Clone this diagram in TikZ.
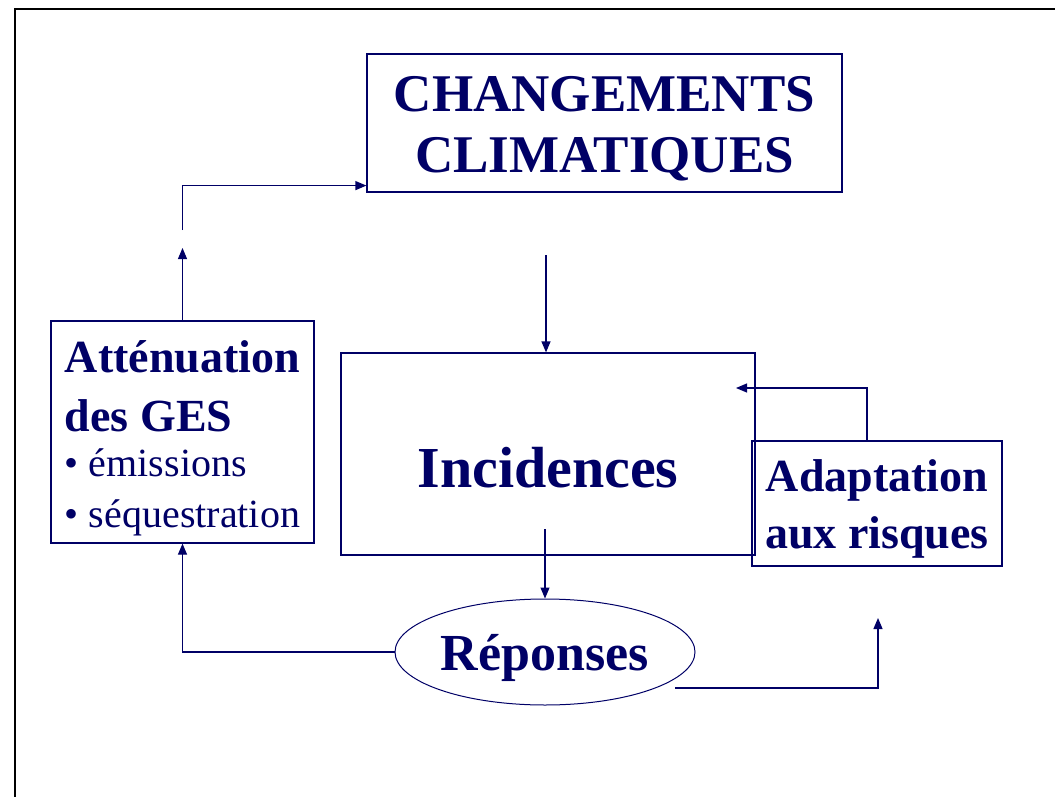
\documentclass[tikz,border=0pt]{standalone}
\usepackage{fontspec}
\setmainfont{Liberation Serif}
\usetikzlibrary{shapes.geometric,arrows.meta}
\definecolor{navy}{RGB}{0,0,102}

\begin{document}
\begin{tikzpicture}[x=1pt,y=-1pt,
  box/.style={draw=navy,line width=1.2pt,text=navy,inner sep=0pt},
  arr/.style={draw=navy,line width=1.2pt,-{Triangle[length=11pt,width=9pt]}}]
\useasboundingbox (0,0) rectangle (1055,797);
% frame
\draw[line width=2pt] (15,797) -- (15,9) -- (1055,9);
% boxes
\node[box,minimum width=475pt,minimum height=138pt,align=center,
      font=\fontsize{53}{61}\selectfont\bfseries] (chg) at (604.5,123)
      {\rule{0pt}{47pt}CHANGEMENTS\\CLIMATIQUES};
\node[box,minimum width=414pt,minimum height=202pt,text height=66pt,text depth=0pt,
      font=\fontsize{58}{70}\selectfont\bfseries] (inc) at (548,454) {Incidences};
\node[box,minimum width=263pt,minimum height=222pt,align=left,
      font=\fontsize{40}{45}\selectfont] (att) at (182.5,432)
      {\rule{0pt}{45pt}{\fontsize{46}{45}\selectfont\bfseries Atténuation}\\[14pt]
       {\fontsize{46}{45}\selectfont\bfseries des GES}\\
       \textbullet{} émissions\\[6pt]
       \textbullet{} séquestration};
\node[box,minimum width=250pt,minimum height=125pt,align=center,
      font=\fontsize{46}{57}\selectfont\bfseries] (ada) at (877,503.5)
      {\rule{0pt}{43pt}Adaptation\\aux risques};
\node[box,ellipse,line width=1pt,minimum width=300pt,minimum height=106pt,
      text height=37pt,text depth=0pt,
      font=\fontsize{52}{62}\selectfont\bfseries] (rep) at (545,652) {Réponses};
% free ends
\coordinate (a1) at (182.5,248);
\coordinate (a2) at (182.5,230);
\coordinate (c1) at (546,255);
\coordinate (i1) at (545,529);
\coordinate (r1) at (675,688);
\coordinate (r2) at (878,618);
\coordinate (d1) at (736,388);
% connectors
\draw[arr] (att.north) -- (a1);
\draw[arr] (a2) |- ([yshift=7pt]chg.south west);
\draw[arr] (c1) -- (c1 |- inc.north);
\draw[arr] (i1) -- (rep.north);
\draw[arr] (rep.west) -| (att.south);
\draw[arr] (r1) -| (r2);
\draw[arr] ([xshift=-10pt]ada.north) |- (d1);
\end{tikzpicture}
\end{document}
